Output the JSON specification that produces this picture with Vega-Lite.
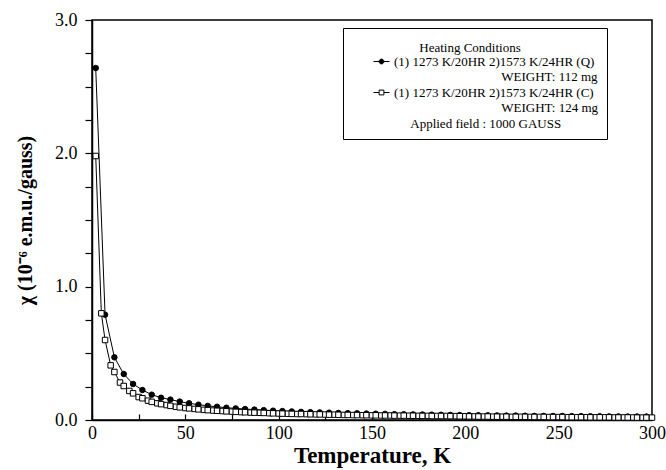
{
  "$schema": "https://vega.github.io/schema/vega-lite/v6.json",
  "width": 560,
  "height": 400,
  "autosize": "none",
  "padding": {"left": 92, "top": 20, "right": 14, "bottom": 50},
  "background": "white",
  "config": {
    "view": {"stroke": "black", "strokeWidth": 1.5},
    "font": "Liberation Serif",
    "axis": {"grid": false, "domainColor": "black", "domainWidth": 1.5, "tickColor": "black", "tickWidth": 1.2, "labelFont": "Liberation Serif", "labelFontSize": 18, "labelColor": "black", "titleFont": "Liberation Serif", "titleColor": "black", "titleFontWeight": "bold", "labelOverlap": false}
  },
  "datasets": {
    "chi": [
      {"T": 2, "v": 2.64, "s": "Q"}, {"T": 7, "v": 0.79, "s": "Q"}, {"T": 12, "v": 0.47, "s": "Q"}, {"T": 17, "v": 0.345, "s": "Q"},
      {"T": 22, "v": 0.27, "s": "Q"}, {"T": 27, "v": 0.225, "s": "Q"}, {"T": 32, "v": 0.19, "s": "Q"}, {"T": 37, "v": 0.167, "s": "Q"},
      {"T": 42, "v": 0.153, "s": "Q"}, {"T": 47, "v": 0.138, "s": "Q"}, {"T": 52, "v": 0.125, "s": "Q"}, {"T": 57, "v": 0.115, "s": "Q"},
      {"T": 62, "v": 0.106, "s": "Q"}, {"T": 67, "v": 0.099, "s": "Q"}, {"T": 72, "v": 0.092, "s": "Q"}, {"T": 77, "v": 0.087, "s": "Q"},
      {"T": 82, "v": 0.082, "s": "Q"}, {"T": 87, "v": 0.078, "s": "Q"}, {"T": 92, "v": 0.074, "s": "Q"}, {"T": 97, "v": 0.07, "s": "Q"},
      {"T": 102, "v": 0.067, "s": "Q"}, {"T": 107, "v": 0.064, "s": "Q"}, {"T": 112, "v": 0.061, "s": "Q"}, {"T": 117, "v": 0.059, "s": "Q"},
      {"T": 122, "v": 0.057, "s": "Q"}, {"T": 127, "v": 0.055, "s": "Q"}, {"T": 132, "v": 0.053, "s": "Q"}, {"T": 137, "v": 0.051, "s": "Q"},
      {"T": 142, "v": 0.05, "s": "Q"}, {"T": 147, "v": 0.048, "s": "Q"}, {"T": 152, "v": 0.047, "s": "Q"}, {"T": 157, "v": 0.046, "s": "Q"},
      {"T": 162, "v": 0.044, "s": "Q"}, {"T": 167, "v": 0.043, "s": "Q"}, {"T": 172, "v": 0.042, "s": "Q"}, {"T": 177, "v": 0.041, "s": "Q"},
      {"T": 182, "v": 0.04, "s": "Q"}, {"T": 187, "v": 0.039, "s": "Q"}, {"T": 192, "v": 0.038, "s": "Q"}, {"T": 197, "v": 0.037, "s": "Q"},
      {"T": 202, "v": 0.036, "s": "Q"}, {"T": 207, "v": 0.036, "s": "Q"}, {"T": 212, "v": 0.035, "s": "Q"}, {"T": 217, "v": 0.034, "s": "Q"},
      {"T": 222, "v": 0.033, "s": "Q"}, {"T": 227, "v": 0.033, "s": "Q"}, {"T": 232, "v": 0.032, "s": "Q"}, {"T": 237, "v": 0.031, "s": "Q"},
      {"T": 242, "v": 0.031, "s": "Q"}, {"T": 247, "v": 0.03, "s": "Q"}, {"T": 252, "v": 0.03, "s": "Q"}, {"T": 257, "v": 0.029, "s": "Q"},
      {"T": 262, "v": 0.029, "s": "Q"}, {"T": 267, "v": 0.028, "s": "Q"}, {"T": 272, "v": 0.028, "s": "Q"}, {"T": 277, "v": 0.027, "s": "Q"},
      {"T": 282, "v": 0.027, "s": "Q"}, {"T": 287, "v": 0.026, "s": "Q"}, {"T": 292, "v": 0.026, "s": "Q"}, {"T": 297, "v": 0.026, "s": "Q"},
      {"T": 2, "v": 1.98, "s": "C"}, {"T": 5, "v": 0.8, "s": "C"}, {"T": 7, "v": 0.6, "s": "C"}, {"T": 10, "v": 0.41, "s": "C"},
      {"T": 12, "v": 0.36, "s": "C"}, {"T": 15, "v": 0.281, "s": "C"}, {"T": 17, "v": 0.255, "s": "C"}, {"T": 20, "v": 0.218, "s": "C"},
      {"T": 22, "v": 0.2, "s": "C"}, {"T": 25, "v": 0.172, "s": "C"}, {"T": 27, "v": 0.163, "s": "C"}, {"T": 30, "v": 0.145, "s": "C"},
      {"T": 32, "v": 0.136, "s": "C"}, {"T": 35, "v": 0.125, "s": "C"}, {"T": 37, "v": 0.119, "s": "C"}, {"T": 40, "v": 0.112, "s": "C"},
      {"T": 42, "v": 0.106, "s": "C"}, {"T": 45, "v": 0.099, "s": "C"}, {"T": 47, "v": 0.095, "s": "C"}, {"T": 50, "v": 0.09, "s": "C"},
      {"T": 52, "v": 0.087, "s": "C"}, {"T": 55, "v": 0.083, "s": "C"}, {"T": 57, "v": 0.08, "s": "C"}, {"T": 60, "v": 0.076, "s": "C"},
      {"T": 62, "v": 0.074, "s": "C"}, {"T": 65, "v": 0.071, "s": "C"}, {"T": 67, "v": 0.069, "s": "C"}, {"T": 70, "v": 0.067, "s": "C"},
      {"T": 72, "v": 0.065, "s": "C"}, {"T": 75, "v": 0.063, "s": "C"}, {"T": 77, "v": 0.061, "s": "C"}, {"T": 80, "v": 0.059, "s": "C"},
      {"T": 82, "v": 0.058, "s": "C"}, {"T": 85, "v": 0.056, "s": "C"}, {"T": 87, "v": 0.055, "s": "C"}, {"T": 90, "v": 0.054, "s": "C"},
      {"T": 92, "v": 0.053, "s": "C"}, {"T": 95, "v": 0.051, "s": "C"}, {"T": 97, "v": 0.05, "s": "C"}, {"T": 100, "v": 0.049, "s": "C"},
      {"T": 102, "v": 0.048, "s": "C"}, {"T": 105, "v": 0.047, "s": "C"}, {"T": 107, "v": 0.046, "s": "C"}, {"T": 110, "v": 0.045, "s": "C"},
      {"T": 112, "v": 0.045, "s": "C"}, {"T": 115, "v": 0.044, "s": "C"}, {"T": 117, "v": 0.043, "s": "C"}, {"T": 120, "v": 0.042, "s": "C"},
      {"T": 122, "v": 0.042, "s": "C"}, {"T": 125, "v": 0.041, "s": "C"}, {"T": 127, "v": 0.04, "s": "C"}, {"T": 130, "v": 0.04, "s": "C"},
      {"T": 132, "v": 0.039, "s": "C"}, {"T": 135, "v": 0.038, "s": "C"}, {"T": 137, "v": 0.038, "s": "C"}, {"T": 140, "v": 0.037, "s": "C"},
      {"T": 142, "v": 0.037, "s": "C"}, {"T": 145, "v": 0.036, "s": "C"}, {"T": 147, "v": 0.036, "s": "C"}, {"T": 150, "v": 0.035, "s": "C"},
      {"T": 152, "v": 0.035, "s": "C"}, {"T": 155, "v": 0.034, "s": "C"}, {"T": 157, "v": 0.034, "s": "C"}, {"T": 160, "v": 0.034, "s": "C"},
      {"T": 162, "v": 0.033, "s": "C"}, {"T": 165, "v": 0.033, "s": "C"}, {"T": 167, "v": 0.033, "s": "C"}, {"T": 170, "v": 0.032, "s": "C"},
      {"T": 172, "v": 0.032, "s": "C"}, {"T": 175, "v": 0.031, "s": "C"}, {"T": 177, "v": 0.031, "s": "C"}, {"T": 180, "v": 0.031, "s": "C"},
      {"T": 182, "v": 0.03, "s": "C"}, {"T": 185, "v": 0.03, "s": "C"}, {"T": 187, "v": 0.03, "s": "C"}, {"T": 190, "v": 0.03, "s": "C"},
      {"T": 192, "v": 0.029, "s": "C"}, {"T": 195, "v": 0.029, "s": "C"}, {"T": 197, "v": 0.028, "s": "C"}, {"T": 200, "v": 0.028, "s": "C"},
      {"T": 202, "v": 0.027, "s": "C"}, {"T": 205, "v": 0.027, "s": "C"}, {"T": 207, "v": 0.026, "s": "C"}, {"T": 210, "v": 0.026, "s": "C"},
      {"T": 212, "v": 0.026, "s": "C"}, {"T": 215, "v": 0.025, "s": "C"}, {"T": 217, "v": 0.025, "s": "C"}, {"T": 220, "v": 0.025, "s": "C"},
      {"T": 222, "v": 0.025, "s": "C"}, {"T": 225, "v": 0.024, "s": "C"}, {"T": 227, "v": 0.024, "s": "C"}, {"T": 230, "v": 0.024, "s": "C"},
      {"T": 232, "v": 0.024, "s": "C"}, {"T": 235, "v": 0.023, "s": "C"}, {"T": 237, "v": 0.023, "s": "C"}, {"T": 240, "v": 0.023, "s": "C"},
      {"T": 242, "v": 0.023, "s": "C"}, {"T": 245, "v": 0.022, "s": "C"}, {"T": 247, "v": 0.022, "s": "C"}, {"T": 250, "v": 0.022, "s": "C"},
      {"T": 252, "v": 0.022, "s": "C"}, {"T": 255, "v": 0.021, "s": "C"}, {"T": 257, "v": 0.021, "s": "C"}, {"T": 260, "v": 0.021, "s": "C"},
      {"T": 262, "v": 0.021, "s": "C"}, {"T": 265, "v": 0.021, "s": "C"}, {"T": 267, "v": 0.02, "s": "C"}, {"T": 270, "v": 0.02, "s": "C"},
      {"T": 272, "v": 0.02, "s": "C"}, {"T": 275, "v": 0.02, "s": "C"}, {"T": 277, "v": 0.02, "s": "C"}, {"T": 280, "v": 0.019, "s": "C"},
      {"T": 282, "v": 0.019, "s": "C"}, {"T": 285, "v": 0.019, "s": "C"}, {"T": 287, "v": 0.019, "s": "C"}, {"T": 290, "v": 0.019, "s": "C"},
      {"T": 292, "v": 0.018, "s": "C"}, {"T": 295, "v": 0.018, "s": "C"}, {"T": 297, "v": 0.018, "s": "C"}, {"T": 300, "v": 0.018, "s": "C"}
    ]
  },
  "data": {"name": "chi"},
  "encoding": {
    "x": {
      "field": "T", "type": "quantitative",
      "scale": {"domain": [0, 300], "nice": false, "zero": false},
      "axis": {
        "title": "Temperature, K", "titleFontSize": 23, "titlePadding": 2,
        "values": [0, 25, 50, 75, 100, 125, 150, 175, 200, 225, 250, 275, 300],
        "labelExpr": "datum.value % 50 == 0 ? datum.label : ''",
        "tickSize": -6, "labelPadding": 10, "labelFlush": false
      }
    },
    "y": {
      "field": "v", "type": "quantitative",
      "scale": {"domain": [0, 3], "nice": false},
      "axis": {
        "title": "χ (10⁻⁶ e.m.u./gauss)", "titleFontSize": 20, "titlePadding": 19,
        "values": [0, 0.25, 0.5, 0.75, 1, 1.25, 1.5, 1.75, 2, 2.25, 2.5, 2.75, 3],
        "labelExpr": "datum.value % 1 == 0 ? format(datum.value, '.1f') : ''",
        "tickSize": 7, "labelPadding": 8, "labelFlush": false
      }
    }
  },
  "layer": [
    {
      "mark": {"type": "line", "color": "black", "strokeWidth": 1},
      "encoding": {"detail": {"field": "s"}}
    },
    {
      "mark": {"type": "point", "filled": true, "size": 30, "stroke": "black", "strokeWidth": 1, "opacity": 1},
      "encoding": {
        "shape": {
          "field": "s", "type": "nominal",
          "scale": {"domain": ["Q", "C"], "range": ["circle", "square"]},
          "legend": null
        },
        "fill": {
          "field": "s", "type": "nominal",
          "scale": {"domain": ["Q", "C"], "range": ["black", "white"]},
          "legend": null
        }
      }
    },
    {
      "transform": [{"filter": "datum.T < 0"}],
      "mark": {"type": "point", "filled": true, "strokeWidth": 1, "opacity": 1},
      "encoding": {
        "shape": {
          "field": "s", "type": "nominal",
          "scale": {"domain": ["Q", "C", "A"], "range": ["M-1,0H-0.3M0.3,0H1M-0.3,0A0.3,0.3,0,1,1,0.3,0A0.3,0.3,0,1,1,-0.3,0Z", "M-1,0H-0.3M0.3,0H1M-0.3,-0.3H0.3V0.3H-0.3Z", "M-0.3,-0.3H0.3V0.3H-0.3Z"]},
          "legend": {
            "title": "\u200b\u00a0\u00a0\u00a0\u00a0\u00a0\u00a0\u00a0\u00a0\u00a0\u00a0\u00a0\u00a0\u00a0\u00a0\u00a0\u00a0\u00a0\u00a0\u00a0\u00a0\u00a0Heating Conditions",
            "orient": "none", "legendX": 251, "legendY": 8,
            "strokeColor": "black", "padding": 8, "fillColor": "white",
            "titleFont": "Liberation Serif", "titleFontSize": 13, "titleFontWeight": "normal", "titleColor": "black",
            "titleBaseline": "line-top", "titleLineHeight": 25,
            "labelFont": "Liberation Serif", "labelFontSize": 13, "labelColor": "black", "labelBaseline": "middle",
            "labelLimit": 400, "symbolOffset": 22, "rowPadding": 0, "titlePadding": 4, "symbolSize": 256, "symbolStrokeWidth": 1,
            "labelExpr": "datum.value == 'Q' ? ['(1) 1273 K/20HR 2)1573 K/24HR (Q)', '\u200b\u00a0\u00a0\u00a0\u00a0\u00a0\u00a0\u00a0\u00a0\u00a0\u00a0\u00a0\u00a0\u00a0\u00a0\u00a0\u00a0\u00a0\u00a0\u00a0\u00a0\u00a0\u00a0\u00a0\u00a0\u00a0\u00a0\u00a0\u00a0\u00a0\u00a0\u00a0\u00a0\u00a0WEIGHT: 112 mg'] : datum.value == 'C' ? ['(1) 1273 K/20HR 2)1573 K/24HR (C)', '\u200b\u00a0\u00a0\u00a0\u00a0\u00a0\u00a0\u00a0\u00a0\u00a0\u00a0\u00a0\u00a0\u00a0\u00a0\u00a0\u00a0\u00a0\u00a0\u00a0\u00a0\u00a0\u00a0\u00a0\u00a0\u00a0\u00a0\u00a0\u00a0\u00a0\u00a0\u00a0\u00a0\u00a0WEIGHT: 124 mg'] : '\u200b\u00a0\u00a0\u00a0\u00a0\u00a0Applied field : 1000 GAUSS'"
          }
        },
        "fill": {
          "field": "s", "type": "nominal",
          "scale": {"domain": ["Q", "C", "A"], "range": ["black", "white", "transparent"]}
        },
        "stroke": {
          "field": "s", "type": "nominal",
          "scale": {"domain": ["Q", "C", "A"], "range": ["black", "black", "transparent"]}
        }
      }
    }
  ],
  "resolve": {"scale": {"shape": "independent", "fill": "independent", "stroke": "independent"}}
}
